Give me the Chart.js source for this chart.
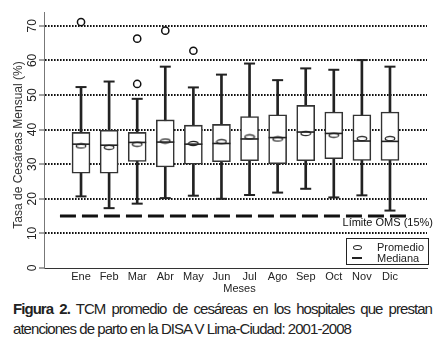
<!DOCTYPE html>
<html>
<head>
<meta charset="utf-8">
<script src="https://cdn.jsdelivr.net/npm/chart.js@4.4.1/dist/chart.umd.min.js"></script>
<style>
  body { margin: 0; background: #fff; font-family: "Liberation Sans", Arial, sans-serif; }
  #wrap { position: relative; width: 445px; height: 352px; overflow: hidden; }
  #chart { position: absolute; left: 0; top: 0; }
  #legend { position: absolute; left: 346px; top: 238px; width: 81px; height: 25px; border: 1px solid #222; font-size: 11px; color: #222; }
  #legend .item { position: absolute; left: 0; height: 12px; line-height: 12px; white-space: nowrap; }
  #legend .sym { position: absolute; left: 5px; width: 10px; }
  #legend .txt { position: absolute; left: 30px; top: 0; }
  #legend .oval { top: 4px; height: 3px; border: 1.3px solid #222; border-radius: 50%; width: 7px; left: 6px; }
  #legend .bar { top: 5px; height: 2px; background: #222; }
  #caption { position: absolute; left: 13px; top: 299px; font-size: 15px; line-height: 20px; color: #222; letter-spacing: -0.95px; white-space: nowrap; }
  #caption .l1 { word-spacing: 2.9px; }
</style>
</head>
<body>
<div id="wrap">
  <canvas id="chart" width="445" height="298"></canvas>
  <div id="legend">
    <div class="item" style="top:2px"><span class="sym oval"></span><span class="txt">Promedio</span></div>
    <div class="item" style="top:13px"><span class="sym bar"></span><span class="txt">Mediana</span></div>
  </div>
  <div id="caption">
    <div class="l1"><b>Figura 2.</b> TCM promedio de cesáreas en los hospitales que prestan</div>
    <div>atenciones de parto en la DISA V Lima-Ciudad: 2001-2008</div>
  </div>
</div>
<script>
const months = ["Ene", "Feb", "Mar", "Abr", "May", "Jun", "Jul", "Ago", "Sep", "Oct", "Nov", "Dic"];
const whiskerLow = [20.7, 17.3, 18.6, 20.2, 20.9, 20.0, 21.1, 21.8, 22.9, 20.4, 21.0, 16.6];
const q1 = [27.4, 27.4, 30.8, 29.2, 30.0, 30.7, 31.0, 30.1, 31.0, 31.6, 31.1, 31.1];
const medians = [35.8, 35.5, 36.3, 36.4, 35.8, 36.0, 37.3, 37.7, 39.3, 38.9, 36.7, 36.6];
const means = [35.3, 34.9, 35.8, 36.7, 36.0, 36.5, 37.9, 37.3, 38.9, 38.4, 37.4, 37.4];
const q3 = [39.2, 39.8, 39.2, 42.8, 41.3, 41.5, 43.8, 44.3, 47.0, 45.1, 44.3, 45.1];
const whiskerHigh = [52.3, 53.9, 48.9, 58.2, 52.2, 55.9, 59.1, 54.3, 57.7, 57.3, 60.1, 58.2];
// outliers: month index (1-based) and value
const outlierMonth = [1, 3, 3, 4, 5];
const outlierValue = [71.1, 66.3, 53.2, 68.6, 62.8];
const yTicks = [0, 10, 20, 30, 40, 50, 60, 70];
const limitValue = 15;
const limitText = "Límite OMS (15%)";
const xTitle = "Meses";

const xMin = 0.25, xMax = 12.75;
const pos = months.map((m, i) => i + 1);
const font = '"Liberation Sans", Arial, sans-serif';

function meanMarker() {
  const c = document.createElement("canvas");
  c.width = 12;
  c.height = 7;
  const g = c.getContext("2d");
  g.beginPath();
  g.ellipse(6, 3.5, 4.8, 2.2, 0, 0, Math.PI * 2);
  g.fillStyle = "#fff";
  g.fill();
  g.lineWidth = 1.2;
  g.strokeStyle = "#222";
  g.stroke();
  return c;
}

// text labels that sit on the axes: limit line label and x axis title
const extraText = {
  id: "extraText",
  afterDatasetsDraw(chart) {
    const { ctx, chartArea, scales } = chart;
    const y = scales.y.getPixelForValue(limitValue);
    ctx.save();
    ctx.font = "11px " + font;
    ctx.fillStyle = "#111";
    ctx.textAlign = "right";
    ctx.textBaseline = "middle";
    ctx.fillText(limitText, chartArea.right + 6, y + 6.5);
    ctx.textAlign = "center";
    ctx.fillStyle = "#222";
    ctx.fillText(xTitle, (scales.x.left + scales.x.right) / 2 + 4, scales.x.top + 21);
    ctx.restore();
  }
};

new Chart(document.getElementById("chart"), {
  type: "bar",
  data: {
    datasets: [
      {
        type: "scatter",
        data: pos.map((x, i) => ({ x, y: medians[i] })),
        pointStyle: "line",
        pointRadius: 9,
        borderWidth: 1.6,
        borderColor: "#222"
      },
      {
        type: "scatter",
        data: pos.map((x, i) => ({ x, y: means[i] })),
        pointStyle: meanMarker()
      },
      {
        type: "scatter",
        data: pos.map((x, i) => ({ x, y: whiskerHigh[i] })).concat(pos.map((x, i) => ({ x, y: whiskerLow[i] }))),
        pointStyle: "line",
        pointRadius: 5.5,
        borderWidth: 2,
        borderColor: "#222"
      },
      {
        type: "scatter",
        data: outlierMonth.map((m, i) => ({ x: m, y: outlierValue[i] })),
        pointStyle: "circle",
        pointRadius: 3.6,
        borderWidth: 1.5,
        borderColor: "#111",
        backgroundColor: "#fff"
      },
      {
        data: pos.map((x, i) => ({ x, y: [q1[i], q3[i]] })),
        backgroundColor: "#fff",
        borderColor: "#333",
        borderWidth: 1.6,
        borderSkipped: false,
        barThickness: 18,
        grouped: false
      },
      {
        data: pos.map((x, i) => ({ x, y: [whiskerLow[i], whiskerHigh[i]] })),
        backgroundColor: "#222",
        borderWidth: 0,
        barThickness: 2,
        grouped: false
      },
      {
        type: "line",
        data: [{ x: xMin, y: limitValue }, { x: xMax, y: limitValue }],
        borderColor: "#111",
        borderWidth: 3,
        borderDash: [16, 6],
        pointRadius: 0
      }
    ]
  },
  options: {
    responsive: false,
    animation: false,
    events: [],
    layout: { padding: { top: 12, right: 18, left: 0, bottom: 0 } },
    plugins: { legend: { display: false }, tooltip: { enabled: false } },
    scales: {
      x: {
        type: "linear",
        min: xMin,
        max: xMax,
        afterBuildTicks: (s) => { s.ticks = pos.map((v) => ({ value: v })); },
        afterFit: (s) => { s.height = 30; },
        grid: { display: false, drawTicks: false },
        border: { display: true, color: "#333", width: 1 },
        ticks: {
          padding: 2,
          color: "#222",
          font: { family: font, size: 11 },
          callback: (v) => months[v - 1]
        }
      },
      y: {
        min: 0,
        max: 74,
        afterBuildTicks: (s) => { s.ticks = yTicks.map((v) => ({ value: v })); },
        afterFit: (s) => { s.width = 44; },
        grid: {
          color: (c) => (c.tick && c.tick.value === 0 ? "rgba(0,0,0,0)" : "#111"),
          lineWidth: 2,
          tickLength: 5,
          tickColor: "#444",
          tickWidth: 1,
          tickBorderDash: []
        },
        border: { display: true, color: "#777", width: 1, dash: [1.6, 1.4] },
        ticks: {
          padding: 0,
          color: "#222",
          minRotation: 90,
          maxRotation: 90,
          crossAlign: "center",
          font: { family: font, size: 12 }
        },
        title: {
          display: true,
          text: "Tasa de Cesáreas Mensual (%)\u00a0\u00a0\u00a0",
          color: "#333",
          font: { family: font, size: 12 },
          padding: { top: 11, bottom: 0 }
        }
      }
    }
  },
  plugins: [extraText]
});
</script>
</body>
</html>
